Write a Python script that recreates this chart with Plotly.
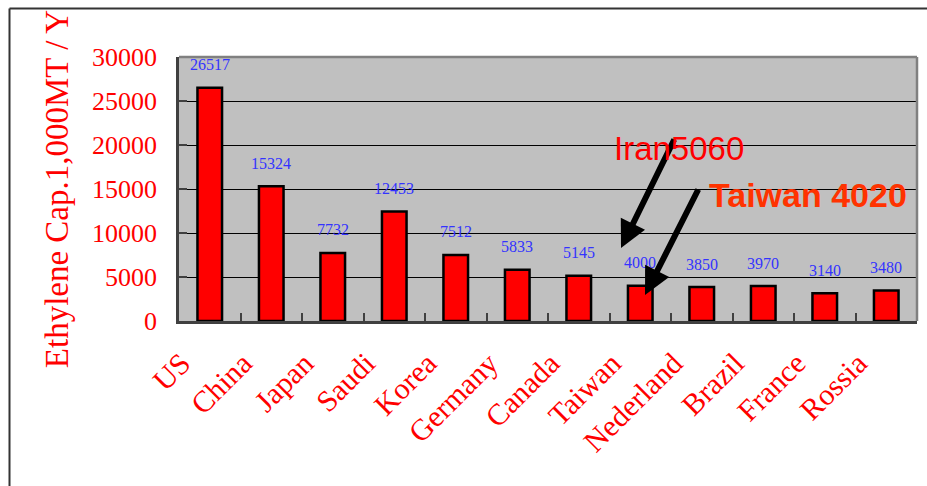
import plotly.graph_objects as go

countries = ["US", "China", "Japan", "Saudi", "Korea", "Germany", "Canada",
             "Taiwan", "Nederland", "Brazil", "France", "Rossia"]
capacity = [26517, 15324, 7732, 12453, 7512, 5833, 5145, 4000, 3850, 3970, 3140, 3480]
y_ticks = [0, 5000, 10000, 15000, 20000, 25000, 30000]

W, H = 927, 486
L, R, T, B = 179, 10, 57, 165
pw, ph = W - L - R, H - T - B

def px(x):
    return (x - L) / pw

def py(y):
    return 1 - (y - T) / ph

fig = go.Figure()
fig.add_trace(go.Bar(
    x=countries, y=capacity,
    marker=dict(color="#FF0000", line=dict(color="#000000", width=2.5)),
    width=0.4,
    hoverinfo="x+y",
))

annotations = []
for c, v in zip(countries, capacity):
    annotations.append(dict(
        x=c, y=v, xref="x", yref="y", text=str(v), showarrow=False,
        yanchor="middle", yshift=23,
        font=dict(family="Liberation Serif", size=16, color="#3333FF"),
    ))

# arrows
annotations.append(dict(
    x=px(621), y=py(248), xref="paper", yref="paper", text="",
    showarrow=True, ax=675 - 621, ay=138 - 248, axref="pixel", ayref="pixel",
    arrowhead=2, arrowsize=0.9, arrowwidth=6, arrowcolor="#000000",
))
annotations.append(dict(
    x=px(645), y=py(295), xref="paper", yref="paper", text="",
    showarrow=True, ax=699 - 645, ay=188 - 295, axref="pixel", ayref="pixel",
    arrowhead=2, arrowsize=0.9, arrowwidth=6, arrowcolor="#000000",
))
annotations.append(dict(
    x=px(679), y=py(148), xref="paper", yref="paper", text="Iran5060",
    showarrow=False, xanchor="center", yanchor="middle",
    font=dict(family="Liberation Sans", size=33, color="#FF0000"),
))
annotations.append(dict(
    x=px(808), y=py(195), xref="paper", yref="paper", text="<b>Taiwan 4020</b>",
    showarrow=False, xanchor="center", yanchor="middle",
    font=dict(family="Liberation Sans", size=34, color="#FF3300"),
))

shapes = [
    # outer frame (left & top edges visible)
    dict(type="line", xref="paper", yref="paper", x0=px(9.5), x1=px(9.5),
         y0=py(8.5), y1=py(490), line=dict(color="#333333", width=2)),
    dict(type="line", xref="paper", yref="paper", x0=px(9.5), x1=px(930),
         y0=py(8.5), y1=py(8.5), line=dict(color="#333333", width=2)),
    # plot border top & right
    dict(type="line", xref="paper", yref="paper", x0=0, x1=1, y0=1, y1=1,
         line=dict(color="#808080", width=2.5)),
    dict(type="line", xref="paper", yref="paper", x0=1, x1=1, y0=0, y1=1,
         line=dict(color="#808080", width=2.5)),
]

fig.update_layout(
    width=W, height=H,
    margin=dict(l=L, r=R, t=T, b=B, pad=0),
    paper_bgcolor="#FFFFFF",
    plot_bgcolor="#C0C0C0",
    showlegend=False,
    bargap=0.6,
    annotations=annotations,
    shapes=shapes,
    xaxis=dict(
        type="category",
        showgrid=False,
        showline=True, linecolor="#404040", linewidth=2.5,
        ticks="inside", tickson="boundaries", ticklen=8, tickwidth=1.5, tickcolor="#404040",
        tickangle=-45,
        tickfont=dict(family="Liberation Serif", size=30, color="#FF0000"),
        ticklabelstandoff=10,
        ticklabelshift=-28,
    ),
    yaxis=dict(
        range=[0, 30000],
        tickvals=y_ticks,
        ticktext=[str(v) for v in y_ticks],
        showgrid=True, gridcolor="#000000", gridwidth=1,
        zeroline=False,
        showline=True, linecolor="#404040", linewidth=2.5,
        ticks="inside", ticklen=8, tickwidth=1.5, tickcolor="#404040",
        tickfont=dict(family="Liberation Serif", size=26, color="#FF0000"),
        ticklabelstandoff=14,
        title=dict(text="Ethylene Cap.1,000MT / Y", standoff=14,
                   font=dict(family="Liberation Serif", size=33, color="#FF0000")),
    ),
)

fig.write_html("out.html")
